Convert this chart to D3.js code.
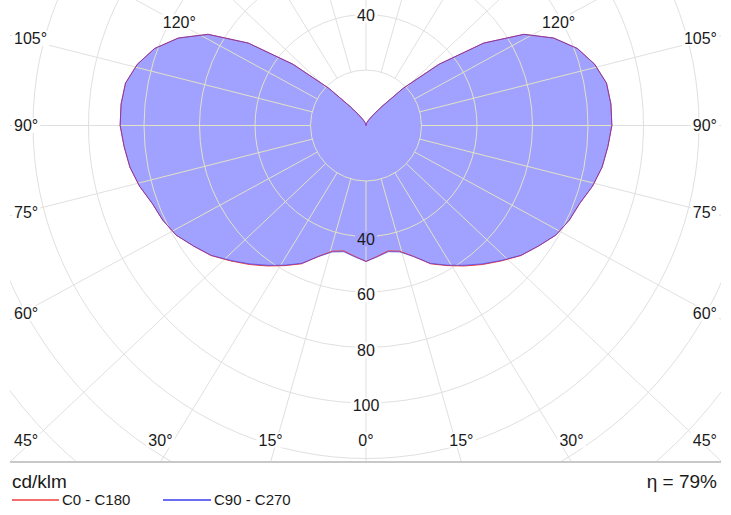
<!DOCTYPE html>
<html><head><meta charset="utf-8">
<script src="https://cdn.jsdelivr.net/npm/d3@7/dist/d3.min.js"></script>
<style>
body{margin:0;background:#fff}
svg{display:block;font-family:"Liberation Sans",Arial,Helvetica,sans-serif}
</style>
</head><body>
<svg id="chart" width="731" height="515"></svg>
<script>
// ---- data (cd/klm) ----
const gammaDeg = [0,5,10,15,20,25,30,35,40,45,50,55,60,65,70,75,80,85,90,95,100,105,110,115,120,125,130,135,140,145,150,155,160,165,170,175,180];
const C0   = [49,47.3,45.9,46.9,50.2,55.0,58.3,61.8,65.4,69.0,72.9,75.8,79.0,80.8,82.0,84.5,86.4,87.5,88.6,88.6,88.0,85.3,81.1,74.6,65.7,51.8,34.3,19.0,9.0,5.0,3.0,2.0,1.2,0.8,0.4,0.2,0];
const C180 = [49,47.3,45.9,46.9,50.2,55.0,58.3,61.8,65.4,69.0,72.9,75.8,79.0,80.8,82.0,84.5,86.4,87.5,88.6,88.6,88.0,85.3,81.1,74.6,65.7,51.8,34.3,19.0,9.0,5.0,3.0,2.0,1.2,0.8,0.4,0.2,0];
const C90  = [49,47.5,46.2,47.2,50.3,54.8,58.1,61.5,65.1,68.8,72.8,75.8,79.0,80.8,82.0,84.5,86.4,87.5,88.6,88.6,88.0,85.3,81.1,74.6,65.7,51.8,34.3,19.0,9.0,5.0,3.0,2.0,1.2,0.8,0.4,0.2,0];
const C270 = [49,47.5,46.2,47.2,50.3,54.8,58.1,61.5,65.1,68.8,72.8,75.8,79.0,80.8,82.0,84.5,86.4,87.5,88.6,88.6,88.0,85.3,81.1,74.6,65.7,51.8,34.3,19.0,9.0,5.0,3.0,2.0,1.2,0.8,0.4,0.2,0];
const circleTicks = [20,40,60,80,100,120,140,160,180];
const valueLabels = [40,60,80,100];
const angleLabels = [0,15,30,45,60,75,90,105,120];
const rayAngles = [0,15,30,45,60,75,90,105,120,135,150,165,180,195,210,225,240,255,270,285,300,315,330,345];
const seriesNames = ["C0 - C180","C90 - C270"];
const unitText = "cd/klm";
const etaText = "η = 79%";

// ---- layout ----
const W = 731, H = 515;
const cx = 366, cy = 125.5;
const plot = {x0:10, x1:721, y0:0, y1:461};
const box = {l:22, r:710, t:22, b:462};
const rayStretch = 1.058;
const colors = {fill:"#a1a1ff", grid:"#e0e0e0", gridIn:"#e2e2c4", red:"#f03c3c", blue:"#3c3cf0", text:"#1a1a1a", base:"#c8c8c8"};

const rScale = d3.scaleLinear().domain([0,100]).range([0,277.5]);
const rad = d => d*Math.PI/180;

const svg = d3.select("#chart");
const defs = svg.append("defs");
defs.append("clipPath").attr("id","plotClip").append("rect")
  .attr("x",plot.x0).attr("y",plot.y0).attr("width",plot.x1-plot.x0).attr("height",plot.y1-plot.y0);

// curve: right half from one plane (gamma 180->0), left half from the opposite plane (gamma 0->180)
function curvePoints(right, left){
  const pts = [];
  for(let i=gammaDeg.length-1;i>=0;i--) pts.push({a:Math.PI-rad(gammaDeg[i]), v:right[i]});
  for(let i=1;i<gammaDeg.length-1;i++) pts.push({a:Math.PI+rad(gammaDeg[i]), v:left[i]});
  return pts;
}
const line = d3.lineRadial().angle(d=>d.a).radius(d=>rScale(d.v)).curve(d3.curveLinearClosed);
const curves = [
  {name:seriesNames[0], pts:curvePoints(C0,C180), color:colors.red},
  {name:seriesNames[1], pts:curvePoints(C90,C270), color:colors.blue}
];

const fillClip = defs.append("clipPath").attr("id","fillClip");
curves.forEach(c=>fillClip.append("path").attr("transform",`translate(${cx},${cy})`).attr("d",line(c.pts)));

function drawGrid(g, color){
  g.selectAll("circle").data(circleTicks).join("circle")
    .attr("cx",cx).attr("cy",cy).attr("r",d=>rScale(d))
    .attr("fill","none").attr("stroke",color).attr("stroke-width",1);
  g.selectAll("line").data(rayAngles).join("line")
    .each(function(t){
      const dx = rayStretch*Math.sin(rad(t)), dy = Math.cos(rad(t));
      const n = Math.hypot(dx,dy), ux = dx/n, uy = dy/n;
      const r0 = rScale(circleTicks[0]);
      d3.select(this).attr("x1",cx+ux*r0).attr("y1",cy+uy*r0)
        .attr("x2",cx+ux*1000).attr("y2",cy+uy*1000);
    })
    .attr("stroke",color).attr("stroke-width",1);
}

const plotG = svg.append("g").attr("clip-path","url(#plotClip)");
drawGrid(plotG.append("g"), colors.grid);
const fillG = plotG.append("g").attr("transform",`translate(${cx},${cy})`);
curves.forEach(c=>fillG.append("path").attr("d",line(c.pts)).attr("fill",colors.fill).attr("stroke","none"));
drawGrid(plotG.append("g").attr("clip-path","url(#fillClip)"), colors.gridIn);
const outG = plotG.append("g").attr("transform",`translate(${cx},${cy})`);
outG.append("path").attr("d",line(curves[0].pts)).attr("fill","none").attr("stroke",colors.red).attr("stroke-width",1);
outG.append("path").attr("d",line(curves[1].pts)).attr("fill","none").attr("stroke",colors.blue).attr("stroke-width",1).attr("stroke-opacity",0.6);

// base line
svg.append("line").attr("x1",plot.x0).attr("x2",plot.x1).attr("y1",462).attr("y2",462)
  .attr("stroke",colors.base).attr("stroke-width",2);

// labels with background
const labG = svg.append("g").attr("font-size",16).attr("fill",colors.text);
function label(x,y,txt,anchor,bg){
  const g = labG.append("g");
  const t = g.append("text").attr("x",x).attr("y",y).attr("text-anchor",anchor)
    .attr("dominant-baseline","central").text(txt);
  const b = t.node().getBBox();
  g.insert("rect","text").attr("x",b.x-2).attr("y",b.y+1).attr("width",b.width+4).attr("height",b.height-2).attr("fill",bg);
  return t;
}
// value labels
label(cx, cy-rScale(valueLabels[0])+0.5, String(valueLabels[0]), "middle", "#fff");
valueLabels.forEach(v=>{
  const inside = v < C0[0];
  label(cx, cy+rScale(v)+2.5, String(v), "middle", inside?colors.fill:"#fff");
});
// angle labels
function angleLabel(g, side){
  const dx = side*rayStretch*Math.sin(rad(g)), dy = Math.cos(rad(g));
  let best = Infinity, edge = null;
  if(dx<-1e-9){const t=(box.l-cx)/dx; if(t<best){best=t;edge="l";}}
  if(dx>1e-9){const t=(box.r-cx)/dx; if(t<best){best=t;edge="r";}}
  if(dy>1e-9){const t=(box.b-cy)/dy; if(t<best){best=t;edge="b";}}
  if(dy<-1e-9){const t=(box.t-cy)/dy; if(t<best){best=t;edge="t";}}
  let x = cx+dx*best, y = cy+dy*best;
  const txt = g+"°";
  if(edge==="l"){ label(box.l-8, Math.min(y,440), txt, "start", "#fff"); }
  else if(edge==="r"){ label(box.r+7, Math.min(y,440), txt, "end", "#fff"); }
  else if(edge==="b"){
    const t = label(x, 440, txt, "middle", "#fff");
    const w = t.node().getComputedTextLength();
    const xc = Math.max(box.l-8+w/2, Math.min(box.r+7-w/2, x));
    if(xc!==x){ const p=t.node().parentNode; d3.select(p).remove(); label(xc,440,txt,"middle","#fff"); }
  }
  else { label(x+3, 22, txt, "middle", "#fff"); }
}
angleLabels.forEach(g=>{ angleLabel(g,-1); if(g>0) angleLabel(g,1); });

// footer
svg.append("text").attr("x",12).attr("y",488).attr("font-size",19).attr("fill",colors.text).text(unitText);
svg.append("text").attr("x",717).attr("y",488).attr("font-size",19).attr("text-anchor","end").attr("fill",colors.text).text(etaText);
const leg = svg.append("g").attr("font-size",15).attr("fill",colors.text);
[[12,59,62],[163,211,214]].forEach((p,i)=>{
  leg.append("line").attr("x1",p[0]).attr("x2",p[1]).attr("y1",500).attr("y2",500)
    .attr("stroke",curves[i].color).attr("stroke-width",1.3);
  leg.append("text").attr("x",p[2]).attr("y",505).text(seriesNames[i]);
});
</script>
</body></html>
